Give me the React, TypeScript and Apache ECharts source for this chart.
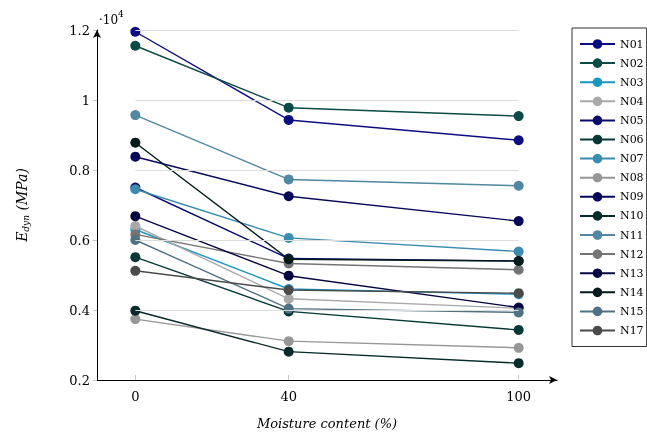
import React, { useEffect, useRef } from "react";
import * as echarts from "echarts";

const MOISTURE = [0, 40, 100];
const X_TICKS = [0, 40, 100];
const Y_GRID = [4000, 6000, 8000, 10000, 12000];

const NAMES = ["N01","N02","N03","N04","N05","N06","N07","N08","N09","N10","N11","N12","N13","N14","N15","N17"];
const COLORS = ["#0d0d82","#0b4a47","#1997bf","#a9a9a9","#0a0a6e","#083836","#3b8caf","#979797","#08085a","#062b2a","#5187a1","#747474","#050540","#031c1b","#4f7282","#4a4a4a"];

const N01 = [11950, 9430, 8850];
const N02 = [11550, 9780, 9540];
const N03 = [6300, 4600, 4450];
const N04 = [6400, 4320, 4050];
const N05 = [7500, 5470, 5400];
const N06 = [5510, 3960, 3430];
const N07 = [7450, 6060, 5670];
const N08 = [3740, 3110, 2920];
const N09 = [8380, 7250, 6540];
const N10 = [3980, 2810, 2480];
const N11 = [9570, 7730, 7550];
const N12 = [6160, 5330, 5150];
const N13 = [6680, 4980, 4070];
const N14 = [8780, 5450, 5400];
const N15 = [6000, 4040, 3930];
const N17 = [5120, 4570, 4480];

const VALUES = [N01,N02,N03,N04,N05,N06,N07,N08,N09,N10,N11,N12,N13,N14,N15,N17];

const SERIF = "DejaVu Serif";

export default function App() {
  const ref = useRef<HTMLDivElement>(null);
  useEffect(() => {
    if (!ref.current) return;
    const chart = echarts.init(ref.current, null, { renderer: "svg" });
    const series: any[] = [
      {
        type: "line",
        name: "__grid",
        data: [],
        silent: true,
        markLine: {
          silent: true,
          symbol: "none",
          label: { show: false },
          lineStyle: { color: "#dcdcdc", width: 1, type: "solid" },
          data: Y_GRID.map((y) => [{ coord: [MOISTURE[0], y] }, { coord: [MOISTURE[MOISTURE.length - 1], y] }]),
        },
      },
    ];
    NAMES.forEach((n, i) => {
      series.push({
        type: "line",
        name: n,
        data: MOISTURE.map((x, j) => [x, VALUES[i][j]]),
        symbol: "circle",
        symbolSize: 10,
        color: COLORS[i],
        lineStyle: { width: 1.4, color: COLORS[i] },
        itemStyle: { color: COLORS[i] },
      });
    });
    chart.setOption({
      animation: false,
      textStyle: { fontFamily: SERIF },
      grid: { left: 97, right: 90, top: 30, bottom: 53, containLabel: false, outerBoundsMode: "none" },
      xAxis: {
        type: "value",
        min: -10,
        max: 110,
        name: "Moisture content (%)",
        nameLocation: "middle",
        nameGap: 37,
        nameTextStyle: { fontFamily: SERIF, fontStyle: "italic", fontSize: 13, color: "#000" },
        axisLine: { show: true, onZero: false, lineStyle: { color: "#000", width: 1 }, symbol: ["none", "arrow"], symbolSize: [6, 8] },
        axisTick: { show: true, inside: true, length: 5, lineStyle: { color: "#c8c8c8" }, customValues: X_TICKS },
        axisLabel: { color: "#000", fontFamily: SERIF, fontSize: 13, margin: 10, customValues: X_TICKS },
        splitLine: { show: false },
      },
      yAxis: {
        type: "value",
        min: 2000,
        max: 12000,
        interval: 2000,
        name: "{e|E}{s|dyn}{e| (MPa)}",
        nameLocation: "middle",
        nameGap: 66,
        nameRotate: 90,
        nameTextStyle: {
          color: "#000",
          rich: {
            e: { fontFamily: SERIF, fontStyle: "italic", fontSize: 14, lineHeight: 16, verticalAlign: "top", color: "#000" },
            s: { fontFamily: SERIF, fontStyle: "italic", fontSize: 9, lineHeight: 16, padding: [6, 0, 0, 0], verticalAlign: "top", color: "#000" },
          },
        },
        axisLine: { show: true, onZero: false, lineStyle: { color: "#000", width: 1 }, symbol: ["none", "arrow"], symbolSize: [6, 8] },
        axisTick: { show: true, inside: false, length: 4, lineStyle: { color: "#c8c8c8" } },
        axisLabel: { color: "#000", fontFamily: SERIF, fontSize: 13, margin: 7, formatter: (v: number) => String(v / 10000) },
        splitLine: { show: false },
      },
      legend: {
        data: NAMES,
        orient: "vertical",
        left: 572,
        top: 28,
        borderColor: "#333",
        borderWidth: 1,
        borderRadius: 0,
        padding: [10, 3, 10, 7],
        itemWidth: 35,
        itemHeight: 12,
        itemGap: 7.1,
        textStyle: { fontFamily: SERIF, fontSize: 11, color: "#000", lineHeight: 12 },
      },
      graphic: [
        {
          type: "text",
          left: 99,
          top: 9,
          style: {
            text: "{a|·10}{b|4}",
            rich: {
              a: { fontFamily: SERIF, fontSize: 12, color: "#000", lineHeight: 18, verticalAlign: "bottom" },
              b: { fontFamily: SERIF, fontSize: 9, color: "#000", lineHeight: 18, padding: [0, 0, 8, 0], verticalAlign: "bottom" },
            },
          },
        },
      ],
      series,
    });
    return () => chart.dispose();
  }, []);
  return <div ref={ref} style={{ width: 647, height: 433, position: "fixed", left: 0, top: 0 }} />;
}
